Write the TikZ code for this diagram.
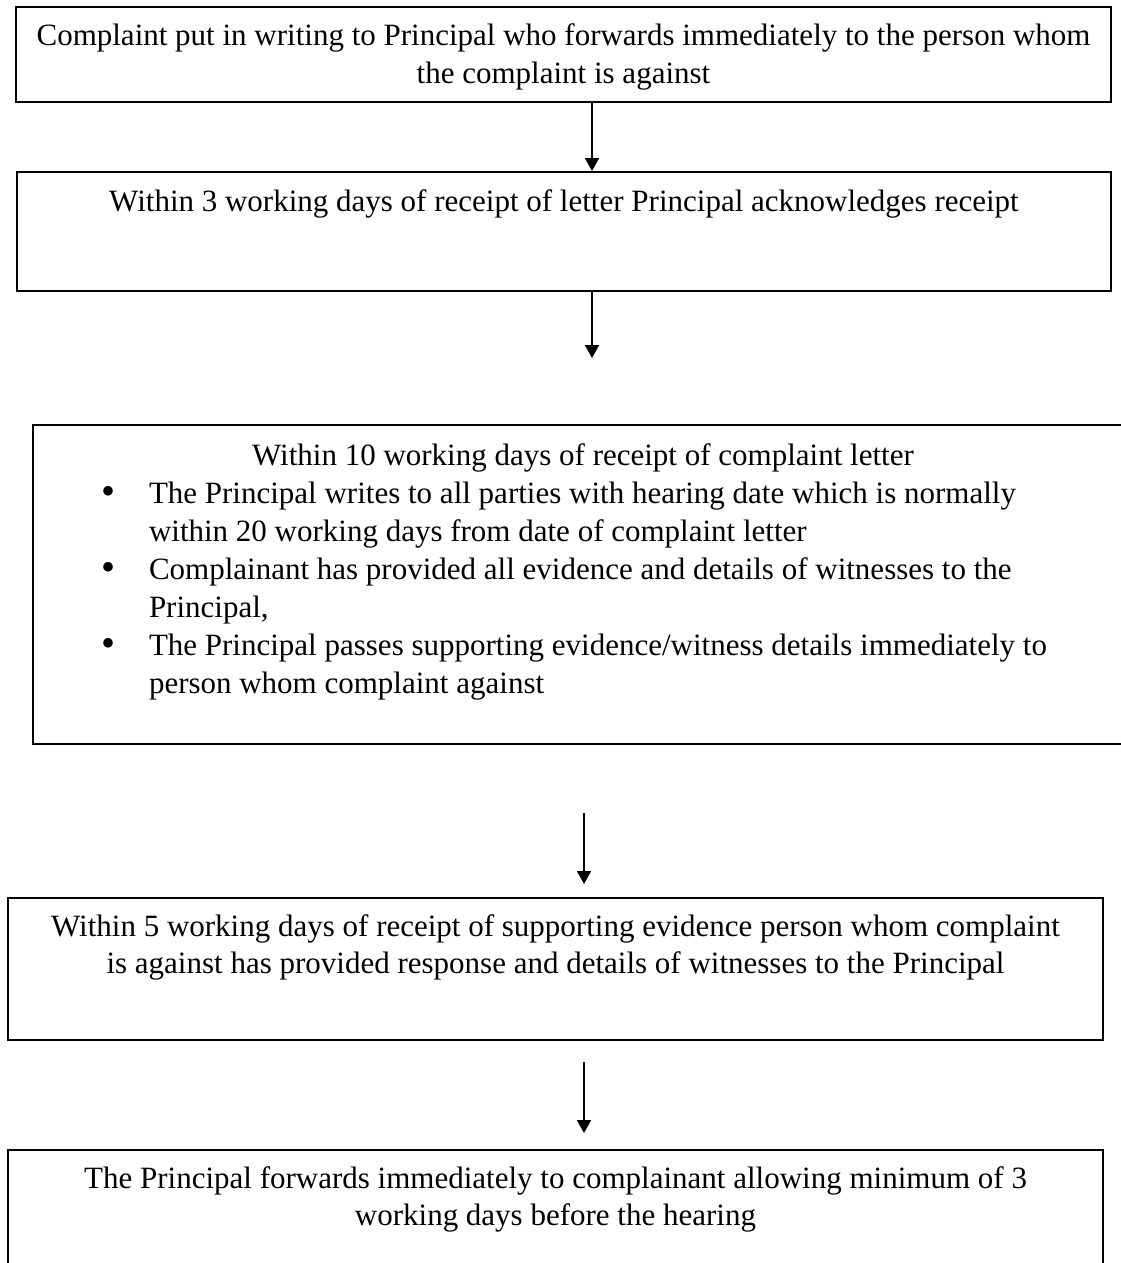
\documentclass[tikz,border=0pt]{standalone}
\usepackage{fontspec}
\setmainfont{Liberation Serif}
\usetikzlibrary{arrows.meta}
\tikzset{
  box/.style={draw, line width=2pt, inner sep=0pt, anchor=north west},
  arr/.style={line width=2pt, -{Triangle[width=14pt,length=13pt]}}
}
\newcommand{\boxtxt}[4]{\parbox[t][#2pt][t]{#1pt}{\fontsize{31}{37}\selectfont\centering\rule{0pt}{#3pt}#4\par}}
\newcommand{\bigbul}{\raisebox{-1.5pt}{\fontsize{40}{38}\selectfont\textbullet}}
\newcommand{\bitem}[2]{\par\noindent\hangindent=116pt\hangafter=1\hspace*{68pt}\makebox[48pt][l]{\bigbul}#1\newline #2\par}
\begin{document}
\begin{tikzpicture}[x=1pt,y=-1pt]
\useasboundingbox (0,0) rectangle (1121,1263);
\node[box] (b1) at (15,6) {\boxtxt{1095}{95}{39}{Complaint put in writing to Principal who forwards immediately to the person whom\\the complaint is against}};
\node[box] (b2) at (16,171) {\boxtxt{1094}{119}{39}{Within 3 working days of receipt of letter Principal acknowledges receipt}};
\node[box] (b3) at (32,424) {\parbox[t][319pt][t]{1100pt}{\fontsize{31}{38}\selectfont
  {\centering\rule{0pt}{40pt}Within 10 working days of receipt of complaint letter\par}
  \raggedright
  \bitem{The Principal writes to all parties with hearing date which is normally}{within 20 working days from date of complaint letter}
  \bitem{Complainant has provided all evidence and details of witnesses to the}{Principal,}
  \bitem{The Principal passes supporting evidence/witness details immediately to}{person whom complaint against}
}};
\node[box] (b4) at (7,897) {\boxtxt{1095}{142}{38}{Within 5 working days of receipt of supporting evidence person whom complaint\\is against has provided response and details of witnesses to the Principal}};
\node[box] (b5) at (7,1149) {\boxtxt{1095}{130}{38}{The Principal forwards immediately to complainant allowing minimum of 3\\working days before the hearing}};
\coordinate (c1) at (592,0);
\coordinate (e2) at (592,358);
\coordinate (s3) at (584,813);
\coordinate (s4) at (584,1062);
\draw[arr] (b1.south -| c1) -- (b2.north -| c1);
\draw[arr] (b2.south -| e2) -- (e2);
\draw[arr, shorten >=13pt] (s3) -- (b4.north -| s3);
\draw[arr, shorten >=16pt] (s4) -- (b5.north -| s4);
\end{tikzpicture}
\end{document}
